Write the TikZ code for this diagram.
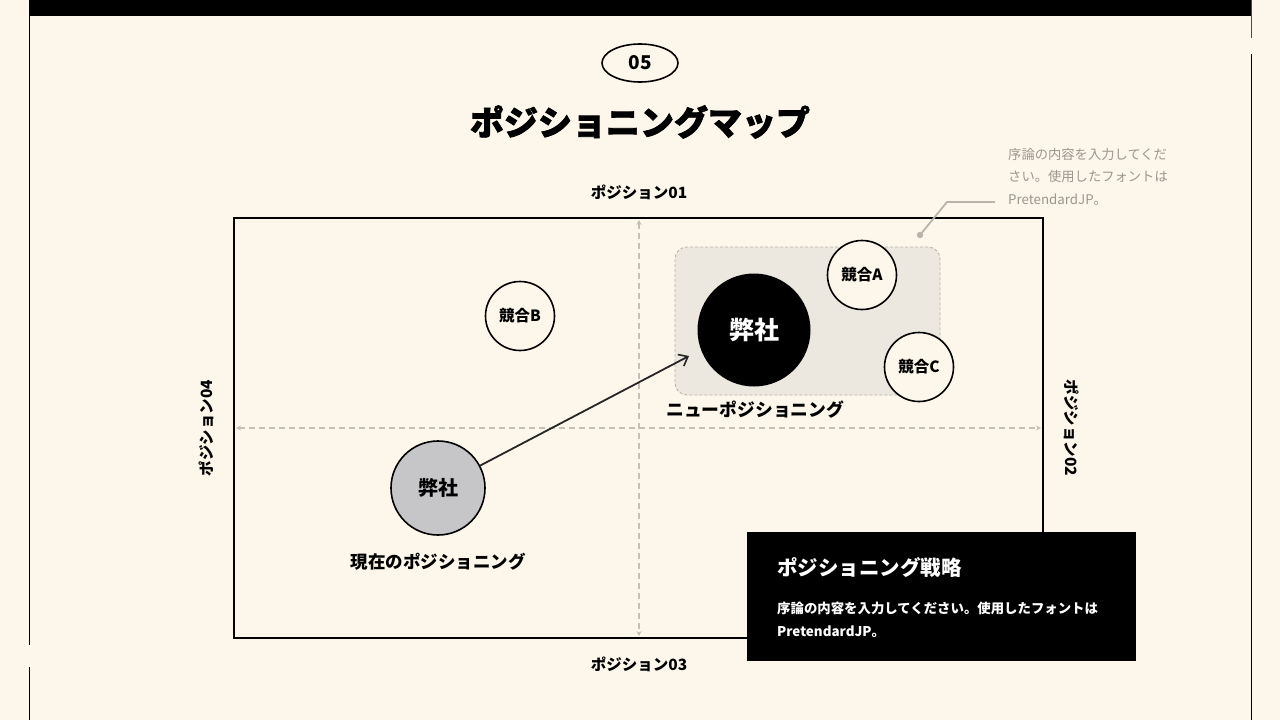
\documentclass[tikz,border=0pt]{standalone}
\usepackage{fontspec}
\setmainfont{Noto Sans CJK JP}
\newfontfamily\cjk{Noto Sans CJK JP}[BoldFeatures={FakeBold=0}]
\newfontfamily\cjkheavy{Noto Sans CJK JP}[BoldFeatures={FakeBold=2}]
\usetikzlibrary{arrows.meta,shapes.geometric}
\definecolor{bg}{HTML}{FDF7EB}
\definecolor{axisgray}{HTML}{C4C0B8}
\definecolor{notegray}{HTML}{9A9790}
\definecolor{zonefill}{HTML}{ECE8DF}
\definecolor{zoneline}{HTML}{B8B4AC}
\definecolor{nowfill}{HTML}{C6C5C8}
\tikzset{
  comp/.style={circle, draw=black, line width=1.6pt, fill=bg, minimum size=69pt, inner sep=0pt, font=\cjk\bfseries\fontsize{15.5}{18}\selectfont},
  axislbl/.style={font=\cjk\bfseries\fontsize{15.5}{18}\selectfont, inner sep=0pt},
  axisline/.style={draw=axisgray, line width=1.3pt, dash pattern=on 6pt off 4pt, {Stealth[length=5pt,width=5pt]}-{Stealth[length=5pt,width=5pt]}},
  frameline/.style={draw=black, line width=1.3pt},
}
\begin{document}
\begin{tikzpicture}[x=1pt,y=-1pt]
\useasboundingbox (0,0) rectangle (1280,720);
\fill[bg] (0,0) rectangle (1280,720);
% frame
\fill[black] (29,0) rectangle (1252,16);
\draw[frameline] (29.5,0) -- (29.5,645);
\draw[frameline] (29.5,667) -- (29.5,720);
\draw[frameline, draw=black!70] (1251.5,0) -- (1251.5,38);
\draw[frameline] (1251.5,54) -- (1251.5,720);
% header
\node[draw=black, line width=1.6pt, ellipse, minimum width=76pt, minimum height=38pt, inner sep=0pt, font=\cjk\bfseries\fontsize{19}{21}\selectfont] (num) at (640,63) {05};
\node[font=\cjkheavy\bfseries\fontsize{34}{38}\selectfont, inner sep=0pt] (title) at (640,122) {ポジショニングマップ};
% chart box
\draw[line width=1.2pt] (234,218) rectangle (1043,638);
\coordinate (vtop) at (639,220);
\coordinate (vbot) at (639,636);
\coordinate (hl) at (236,428);
\coordinate (hr) at (1041,428);
\draw[axisline] (vtop) -- (vbot);
\draw[axisline] (hl) -- (hr);
% axis labels
\node[axislbl] (p1) at (639,192) {ポジション01};
\node[axislbl] (p3) at (639,664) {ポジション03};
\node[axislbl, rotate=90] (p4) at (206,428) {ポジション04};
\node[axislbl, rotate=-90] (p2) at (1072,428) {ポジション02};
% new positioning zone
\draw[draw=zoneline, fill=zonefill, line width=0.9pt, dash pattern=on 3pt off 2pt, rounded corners=12pt] (675,247) rectangle (940,395);
\node[font=\cjk\fontsize{17.8}{20}\selectfont\bfseries, anchor=west, inner sep=0pt] (newlbl) at (666,410) {ニューポジショニング};
% circles
\node[comp] (cb) at (520,316) {競合B};
\node[comp] (ca) at (862,275) {競合A};
\node[comp] (cc) at (919,367) {競合C};
\node[circle, fill=black, minimum size=113pt, inner sep=0pt, text=white, font=\cjk\bfseries\fontsize{25}{28}\selectfont] (us) at (754,330) {弊社};
\node[circle, draw=black, line width=1.6pt, fill=nowfill, minimum size=94pt, inner sep=0pt, font=\cjk\bfseries\fontsize{20}{24}\selectfont] (now) at (438,488) {弊社};
\node[font=\cjk\bfseries\fontsize{17.5}{19}\selectfont, inner sep=0pt] (nowlbl) at (438,562) {現在のポジショニング};
\coordinate (arrend) at (689,356);
\draw[line width=1.8pt, draw=black!85, -{Straight Barb[length=8pt,width=13pt,line width=1.6pt]}] (now.28) -- (arrend);
% annotation
\node[font=\cjk\fontsize{13.3}{22.5}\selectfont, text=notegray, anchor=north west, align=left, inner sep=0pt] (note) at (1008,148) {序論の内容を入力してくだ\\さい。使用したフォントは\\PretendardJP。};
\coordinate (n1) at (995,202);
\coordinate (n2) at (947,202);
\coordinate (n3) at (920,235);
\draw[draw=zoneline, line width=1.8pt] (n1) -- (n2) -- (n3);
\fill[zoneline] (n3) circle (3.2pt);
% strategy box
\fill[black] (747,532) rectangle (1136,661);
\node[font=\cjk\bfseries\fontsize{20.5}{24}\selectfont, text=white, anchor=west, inner sep=0pt] (stitle) at (777,568) {ポジショニング戦略};
\node[font=\cjk\fontsize{13.4}{23}\selectfont\bfseries, text=white, anchor=north west, align=left, inner sep=0pt] (sbody) at (777,602) {序論の内容を入力してください。使用したフォントは\\PretendardJP。};
\end{tikzpicture}
\end{document}
